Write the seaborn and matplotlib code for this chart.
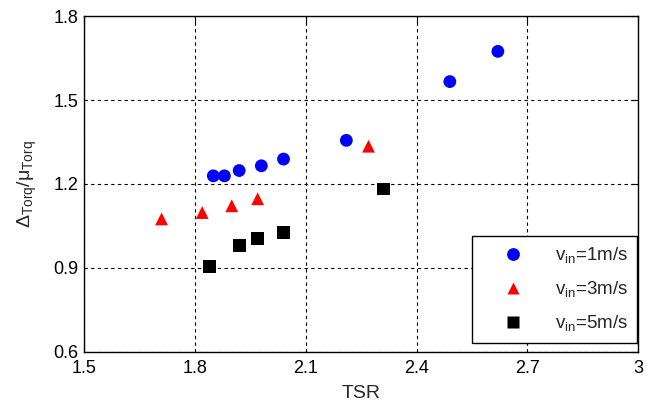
import numpy as np
import pandas as pd
import matplotlib
matplotlib.use("Agg")
import matplotlib.pyplot as plt
import seaborn as sns

# values
tsr_v1 = [1.85, 1.88, 1.92, 1.98, 2.04, 2.21, 2.49, 2.62]
ratio_v1 = [1.229, 1.229, 1.248, 1.265, 1.289, 1.356, 1.566, 1.674]

tsr_v3 = [1.71, 1.82, 1.90, 1.97, 2.27]
ratio_v3 = [1.075, 1.098, 1.122, 1.147, 1.335]

tsr_v5 = [1.84, 1.92, 1.97, 2.04, 2.31]
ratio_v5 = [0.904, 0.979, 1.006, 1.026, 1.182]

series_labels = [r"$\mathregular{v_{in}}$=1m/s",
                 r"$\mathregular{v_{in}}$=3m/s",
                 r"$\mathregular{v_{in}}$=5m/s"]
x_ticks = [1.5, 1.8, 2.1, 2.4, 2.7, 3.0]
x_tick_labels = ["1.5", "1.8", "2.1", "2.4", "2.7", "3"]
y_ticks = [0.6, 0.9, 1.2, 1.5, 1.8]

df = pd.concat([
    pd.DataFrame({"TSR": tsr_v1, "ratio": ratio_v1, "case": series_labels[0]}),
    pd.DataFrame({"TSR": tsr_v3, "ratio": ratio_v3, "case": series_labels[1]}),
    pd.DataFrame({"TSR": tsr_v5, "ratio": ratio_v5, "case": series_labels[2]}),
], ignore_index=True)

sns.set_style("white")
plt.rcParams["font.family"] = ["Liberation Sans", "DejaVu Sans"]
plt.rcParams["mathtext.fontset"] = "custom"
plt.rcParams["mathtext.rm"] = "Liberation Sans"
plt.rcParams["mathtext.it"] = "Liberation Sans:italic"

fig = plt.figure(figsize=(6.56, 4.03), dpi=100)
ax = fig.add_axes([0.128, 0.127, 0.845, 0.833])

palette = {series_labels[0]: "#0000ff", series_labels[1]: "#ff0000", series_labels[2]: "#000000"}
markers = {series_labels[0]: "o", series_labels[1]: "^", series_labels[2]: "s"}

sns.scatterplot(data=df, x="TSR", y="ratio", hue="case", style="case",
                palette=palette, markers=markers, s=85, edgecolor="none",
                hue_order=series_labels, style_order=series_labels, ax=ax, zorder=3)

ax.set_xlim(1.5, 3.0)
ax.set_ylim(0.6, 1.8)
ax.set_xticks(x_ticks)
ax.set_xticklabels(x_tick_labels)
ax.set_yticks(y_ticks)
ax.grid(True, color="black", linestyle=(0, (3, 3)), linewidth=0.8)
ax.tick_params(direction="in", top=True, right=True, length=5, width=0.8,
               labelsize=13, colors="black")
ax.tick_params(axis="x", pad=6)
ax.tick_params(axis="y", pad=4)
for sp in ax.spines.values():
    sp.set_color("black")
    sp.set_linewidth(1.0)

ax.set_xlabel("TSR", fontsize=14, labelpad=6)
ax.set_ylabel(r"$\mathregular{\Delta_{Torq}/\mu_{Torq}}$", fontsize=14, labelpad=10)

leg = ax.legend(loc="lower right", bbox_to_anchor=(0.998, 0.027), fontsize=13.5,
                frameon=True, fancybox=False, edgecolor="black", borderaxespad=0,
                handlelength=3.3, handletextpad=0.6, borderpad=0.5,
                labelspacing=0.75, markerscale=1.0)
leg.get_frame().set_linewidth(1.0)
leg.get_frame().set_alpha(1)

fig.savefig("out.png", dpi=100)
